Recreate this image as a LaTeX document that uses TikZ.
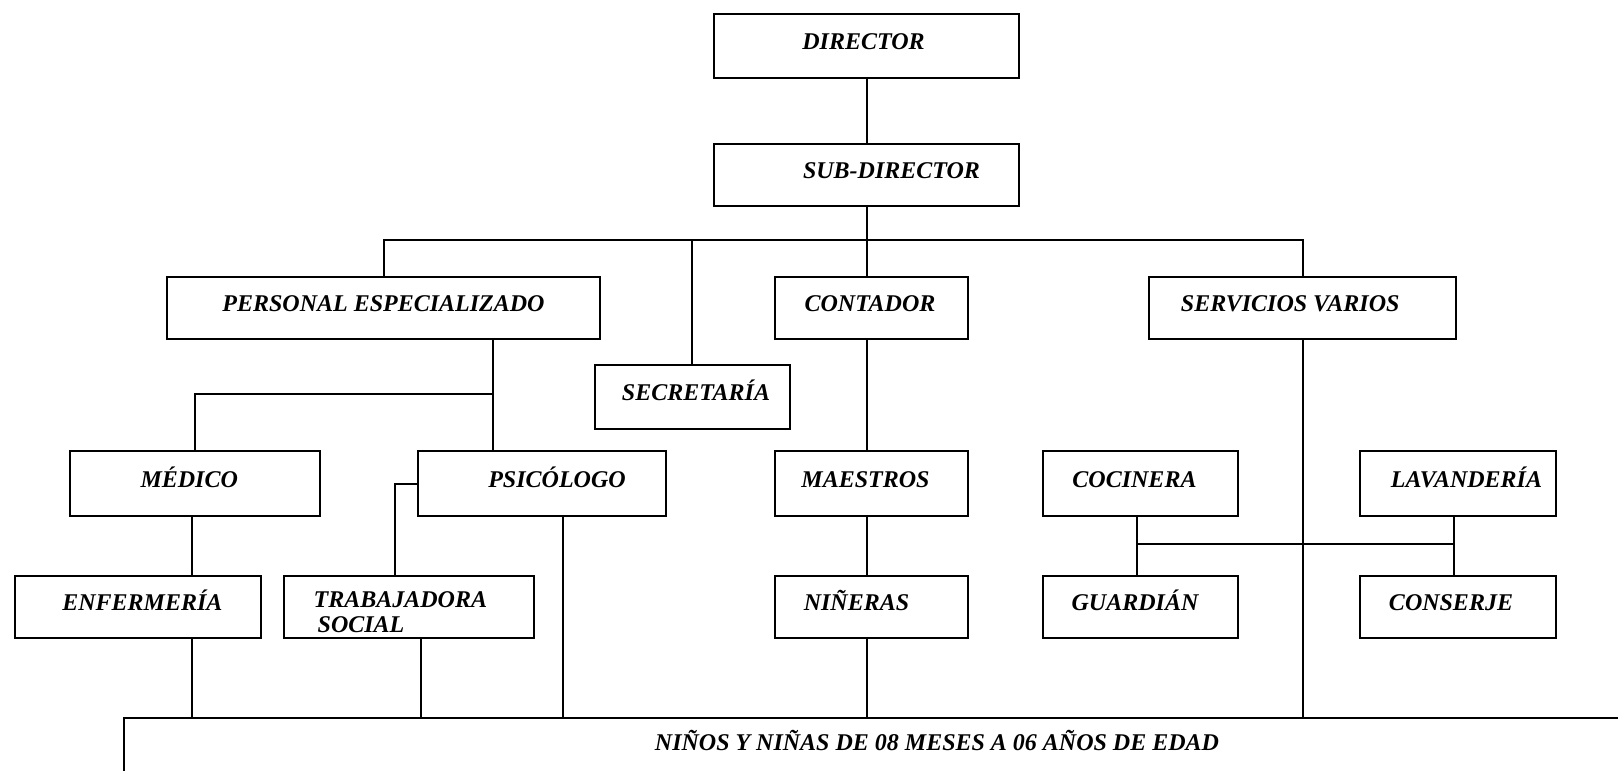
\documentclass[tikz,border=0pt]{standalone}
\usepackage{fontspec}
\setmainfont{Liberation Serif}
\usetikzlibrary{calc}
\newcommand{\txs}[2]{\ifdim#1pt>0pt\hspace*{#1pt}\hspace*{#1pt}#2\else#2\hspace*{-#1pt}\hspace*{-#1pt}\fi}
\begin{document}
\begin{tikzpicture}[x=1pt,y=-1pt,
  lbl/.style={inner sep=0pt, font=\bfseries\itshape\fontsize{24}{25}\selectfont},
  box/.style={draw, line width=2pt, inner sep=0pt, font=\bfseries\itshape\fontsize{24}{25}\selectfont, text height=12pt, text depth=5pt},
  conn/.style={line width=2pt}]
\useasboundingbox (0,0) rectangle (1618,771);
\clip (0,0) rectangle (1618,771);
% level 0-1
\node[box, minimum width=305pt, minimum height=64pt] (dir) at (866.5,45.5) {\txs{-3}{DIRECTOR}};
\node[box, minimum width=305pt, minimum height=62pt] (sub) at (866.5,175) {\txs{25}{SUB-DIRECTOR}};
% row 1
\node[box, minimum width=433pt, minimum height=62pt] (pers) at (383.5,308) {PERSONAL ESPECIALIZADO};
\node[box, minimum width=193pt, minimum height=62pt] (cont) at (871.5,308) {\txs{-1.5}{CONTADOR}};
\node[box, minimum width=306.5pt, minimum height=62pt] (serv) at (1302.7,308) {\txs{-12.5}{SERVICIOS VARIOS}};
\node[box, minimum width=195pt, minimum height=64pt] (secre) at (692,397) {\txs{4}{SECRETARÍA}};
% row 2
\node[box, minimum width=249.5pt, minimum height=65pt] (med) at (195.2,483.5) {\txs{-6}{MÉDICO}};
\node[box, minimum width=248pt, minimum height=65pt] (psic) at (542,483.5) {\txs{15}{PSICÓLOGO}};
\node[box, minimum width=193pt, minimum height=65pt] (maes) at (871.5,483.5) {\txs{-6}{MAESTROS}};
\node[box, minimum width=195pt, minimum height=65pt] (coc) at (1140.5,483.5) {\txs{-6}{COCINERA}};
\node[box, minimum width=196pt, minimum height=65pt] (lav) at (1458,483.5) {\txs{8.5}{LAVANDERÍA}};
% row 3
\node[box, minimum width=246pt, minimum height=62pt] (enf) at (138,607) {\txs{4.4}{ENFERMERÍA}};
\node[box, minimum width=250pt, minimum height=62pt] (trab) at (409,607) {};
\node[lbl, anchor=north west, align=left] (trabt) at (313.5,591.5) {TRABAJADORA\\\hspace*{4pt}SOCIAL};
\node[box, minimum width=193pt, minimum height=62pt] (nin) at (871.5,607) {\txs{-15}{NIÑERAS}};
\node[box, minimum width=195pt, minimum height=62pt] (guar) at (1140.5,607) {\txs{-5.5}{GUARDIÁN}};
\node[box, minimum width=196pt, minimum height=62pt] (cons) at (1458,607) {\txs{-7}{CONSERJE}};
% bottom
\node[box, minimum width=1577pt, minimum height=83pt, text depth=31pt, anchor=north west] (ninos) at (123,717) {\txs{24.5}{NIÑOS Y NIÑAS DE 08 MESES A 06 AÑOS DE EDAD}};
% connectors
\draw[conn] (dir.south) -- (sub.north);
\coordinate (bus) at (866.5,239.7);
\draw[conn] (pers.north) |- (bus) -| (serv.north);
\draw[conn] (sub.south) -- (cont.north -| sub.south);
\draw[conn] (secre.north) -- (secre.north |- bus);
\draw[conn] (cont.south -| sub.south) -- (maes.north -| sub.south);
\draw[conn] (maes.south -| sub.south) -- (nin.north -| sub.south);
\draw[conn] (nin.south -| sub.south) -- (ninos.north -| sub.south);
\coordinate (pdrop) at ([xshift=109pt]pers.south);
\draw[conn] (pdrop) -- (pdrop |- psic.north);
\coordinate (pbr) at (pdrop |- 0,394.3);
\draw[conn] (pbr) -| (med.north);
\coordinate (mdrop) at ([xshift=-3pt]med.south);
\draw[conn] (mdrop) -- (mdrop |- enf.north);
\draw[conn] (mdrop |- enf.south) -- (mdrop |- ninos.north);
\draw[conn] (psic.west) -| ([xshift=-14.5pt]trab.north);
\coordinate (tdrop) at ([xshift=12pt]trab.south);
\draw[conn] (tdrop) -- (tdrop |- ninos.north);
\coordinate (sdrop) at ([xshift=21pt]psic.south);
\draw[conn] (sdrop) -- (sdrop |- ninos.north);
\draw[conn] (serv.south) -- (serv.south |- ninos.north);
\coordinate (cdrop) at ([xshift=-4pt]coc.south);
\coordinate (ldrop) at ([xshift=-4.5pt]lav.south);
\draw[conn] (cdrop) -- (cdrop |- guar.north);
\draw[conn] (ldrop) -- (ldrop |- cons.north);
\draw[conn] (cdrop |- 0,544.3) -- (ldrop |- 0,544.3);
\end{tikzpicture}
\end{document}
